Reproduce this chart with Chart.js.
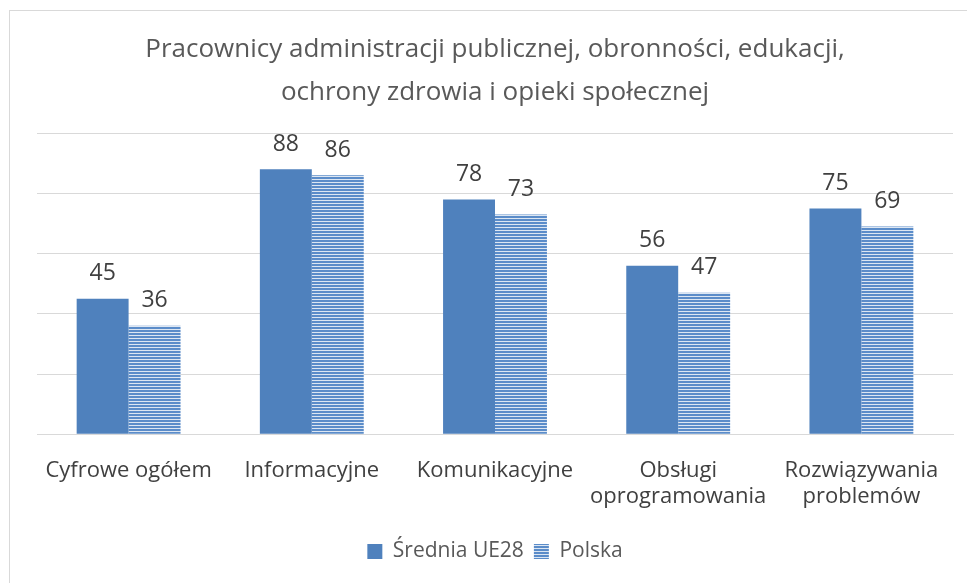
<!DOCTYPE html>
<html>
<head>
<meta charset="utf-8">
<script src="https://cdn.jsdelivr.net/npm/chart.js@4"></script>
<style>
  html, body { margin: 0; padding: 0; background: #ffffff; }
  #wrap { position: absolute; left: 0; top: 0; width: 967px; height: 583px; }
  #frame { position: absolute; left: 9px; top: 10px; width: 970px; height: 590px; border: 1px solid #d9d9d9; box-sizing: border-box; pointer-events: none; }
</style>
</head>
<body>
<div id="wrap"><canvas id="chart" width="967" height="583"></canvas></div>
<div id="frame"></div>
<script>
// ===== Dane =====
const TITLE_LINES = [
  'Pracownicy administracji publicznej, obronności, edukacji,',
  'ochrony zdrowia i opieki społecznej'
];
const CATEGORIES = [
  'Cyfrowe ogółem',
  'Informacyjne',
  'Komunikacyjne',
  ['Obsługi', 'oprogramowania'],
  ['Rozwiązywania', 'problemów']
];
const SREDNIA_UE28 = [45, 88, 78, 56, 75];
const POLSKA = [36, 86, 73, 47, 69];
const Y_TICKS = [0, 20, 40, 60, 80, 100];

const THEME = {
  ink: '#404040',
  title: '#595959',
  grid: '#d9d9d9',
  blue: '#4f81bd',
  stripe: '#5b8cc9',
  stripeLight: '#dce6f2',
};
const FONT = '"Open Sans", "Noto Sans", sans-serif';

// poziome paski dla serii "Polska"
function stripePattern() {
  const c = document.createElement('canvas');
  c.width = 4; c.height = 3;
  const g = c.getContext('2d');
  g.fillStyle = THEME.stripeLight;
  g.fillRect(0, 0, 4, 3);
  g.fillStyle = THEME.stripe;
  g.fillRect(0, 0, 4, 2);
  return g.createPattern(c, 'repeat');
}

// etykiety wartości nad słupkami
const valueLabels = {
  id: 'valueLabels',
  afterDatasetsDraw(chart) {
    const ctx = chart.ctx;
    ctx.save();
    ctx.font = '23px ' + FONT;
    ctx.fillStyle = THEME.ink;
    ctx.textAlign = 'center';
    ctx.textBaseline = 'middle';
    chart.data.datasets.forEach((ds, i) => {
      chart.getDatasetMeta(i).data.forEach((bar, j) => {
        ctx.fillText(String(ds.data[j]), bar.x, bar.y - 25);
      });
    });
    ctx.restore();
  }
};

const ctx = document.getElementById('chart');
new Chart(ctx, {
  type: 'bar',
  data: {
    labels: CATEGORIES,
    datasets: [
      {
        label: 'Średnia UE28',
        data: SREDNIA_UE28,
        backgroundColor: THEME.blue,
        borderWidth: 0,
      },
      {
        label: 'Polska',
        data: POLSKA,
        backgroundColor: stripePattern(),
        borderWidth: 0,
      }
    ]
  },
  options: {
    responsive: false,
    animation: false,
    layout: { padding: { left: 37, right: 14, top: 17, bottom: 11 } },
    datasets: { bar: { barPercentage: 1, categoryPercentage: 0.567 } },
    plugins: {
      title: {
        display: true,
        text: TITLE_LINES,
        color: THEME.title,
        font: { family: FONT, size: 26, weight: 'normal', lineHeight: 1.62 },
        padding: { top: 12, bottom: 20 },
      },
      legend: {
        position: 'bottom',
        labels: {
          color: THEME.title,
          font: { family: FONT, size: 21 },
          boxWidth: 15,
          boxHeight: 15,
          padding: 10,
        }
      },
      tooltip: { enabled: false }
    },
    scales: {
      x: {
        afterFit: (axis) => { axis.height += 6; },
        grid: { display: false },
        border: { color: THEME.grid, width: 1 },
        ticks: {
          color: THEME.ink,
          font: { family: FONT, size: 22, lineHeight: 1.2 },
          maxRotation: 0,
          autoSkip: false,
          padding: 15,
        }
      },
      y: {
        min: Y_TICKS[0],
        max: Y_TICKS[Y_TICKS.length - 1],
        afterBuildTicks: (axis) => { axis.ticks = Y_TICKS.map(v => ({ value: v })); },
        ticks: { display: false },
        grid: { color: THEME.grid, lineWidth: 1, drawTicks: false },
        border: { display: false },
      }
    }
  },
  plugins: [valueLabels]
});
</script>
</body>
</html>
